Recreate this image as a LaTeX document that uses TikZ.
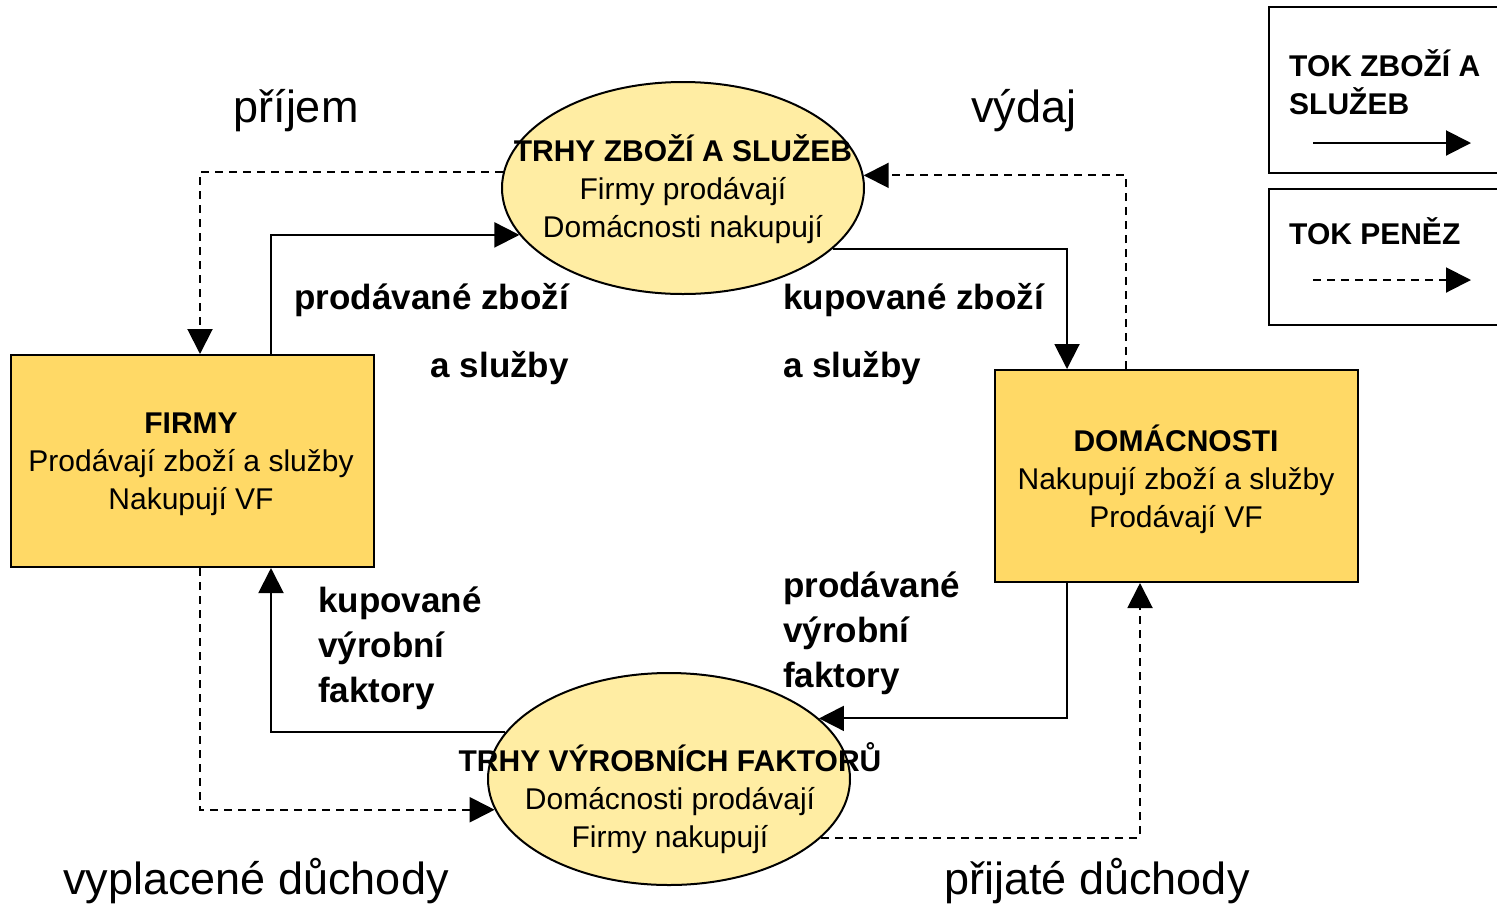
\documentclass[tikz,border=0pt]{standalone}
\usepackage{fontspec}
\setmainfont{Liberation Sans}
\usetikzlibrary{shapes.geometric,arrows.meta}
\definecolor{ellfill}{HTML}{FFEDA3}
\definecolor{boxfill}{HTML}{FFD966}
\newcommand\myfs[2]{\fontsize{#1}{#2}\selectfont}
\begin{document}
\begin{tikzpicture}[x=1pt,y=-1pt,
  flow/.style={line width=2pt,-{Triangle[length=25pt,width=25pt]}},
  money/.style={flow,dash pattern=on 8pt off 6pt},
  market/.style={ellipse,draw,line width=2pt,fill=ellfill,minimum width=362pt,minimum height=212pt,inner sep=0pt},
  mtext/.style={inner sep=0pt,align=center,font=\myfs{30}{38}},
  agent/.style={rectangle,draw,line width=2pt,fill=boxfill,minimum width=363pt,minimum height=212pt,inner sep=0pt},
  blab/.style={inner sep=0pt,font=\myfs{35}{68}\bfseries},
  flab/.style={inner sep=0pt,font=\myfs{35}{45}\bfseries,align=left},
  big/.style={inner sep=0pt,font=\myfs{45}{50}},
  legbox/.style={rectangle,draw,line width=2.5pt,fill=white,inner sep=0pt},
  legtext/.style={inner sep=0pt,font=\myfs{30}{38}\bfseries,align=left}
]
\useasboundingbox (0,0) rectangle (1497,906);

% nodes
\node[market] (top) at (683,188) {};
\node[mtext] (toptext) at (683,189) {\textbf{TRHY ZBOŽÍ A SLUŽEB}\\Firmy prodávají\\Domácnosti nakupují};
\node[market] (bot) at (669,779) {};
\node[mtext] (bottext) at (670,798) {\textbf{TRHY VÝROBNÍCH FAKTORŮ}\\Domácnosti prodávají\\Firmy nakupují};
\node[agent] (firmy) at (192,461) {};
\node[mtext] (firmytext) at (191,464) {\textbf{FIRMY}\\Prodávají zboží a služby\\Nakupují VF};
\node[agent] (dom) at (1176,476) {};
\node[mtext] (domtext) at (1176,479) {\textbf{DOMÁCNOSTI}\\Nakupují zboží a služby\\Prodávají VF};

% helper x positions
\coordinate (x200) at (200,0);
\coordinate (x271) at (271,0);
\coordinate (x1067) at (1067,0);
\coordinate (x1126) at (1126,0);
\coordinate (x1140) at (1140,0);

% goods flows
\draw[flow] (firmy.north -| x271) |- (top.196);
\draw[flow] (top.-22) -| (dom.north -| x1067);
\draw[flow] (dom.south -| x1067) |- (bot.22);
\draw[flow] (bot.164) -| (firmy.south -| x271);

% money flows
\draw[money] (top.175) -| (firmy.north -| x200);
\draw[money] (dom.north -| x1126) |- (top.4);
\draw[money] (firmy.south -| x200) |- (bot.190);
\draw[money] (bot.-21) -| (dom.south -| x1140);

% labels
\node[blab,align=right,anchor=east] (l1) at (569,334) {prodávané zboží\\a služby};
\node[blab,align=left,anchor=west] (l2) at (783,334) {kupované zboží\\a služby};
\node[flab,anchor=west] (l3) at (318,648) {kupované\\výrobní\\faktory};
\node[flab,anchor=west] (l4) at (783,633) {prodávané\\výrobní\\faktory};
\node[big] (prijem) at (296,111) {příjem};
\node[big] (vydaj) at (1024,111) {výdaj};
\node[big] (vypl) at (256,881) {vyplacené důchody};
\node[big] (prij) at (1097,881) {přijaté důchody};

% legend
\draw[legbox] (1269,7) rectangle (1512,173);
\node[legtext,anchor=west] (lg1) at (1289,82) {TOK ZBOŽÍ A\\SLUŽEB};
\coordinate (la1) at (1313,143);
\coordinate (lb1) at (1471,143);
\draw[flow] (la1) -- (lb1);
\draw[legbox] (1269,189) rectangle (1512,325);
\node[legtext,anchor=west] (lg2) at (1289,231) {TOK PENĚZ};
\coordinate (la2) at (1313,280);
\coordinate (lb2) at (1471,280);
\draw[money] (la2) -- (lb2);
\end{tikzpicture}
\end{document}
